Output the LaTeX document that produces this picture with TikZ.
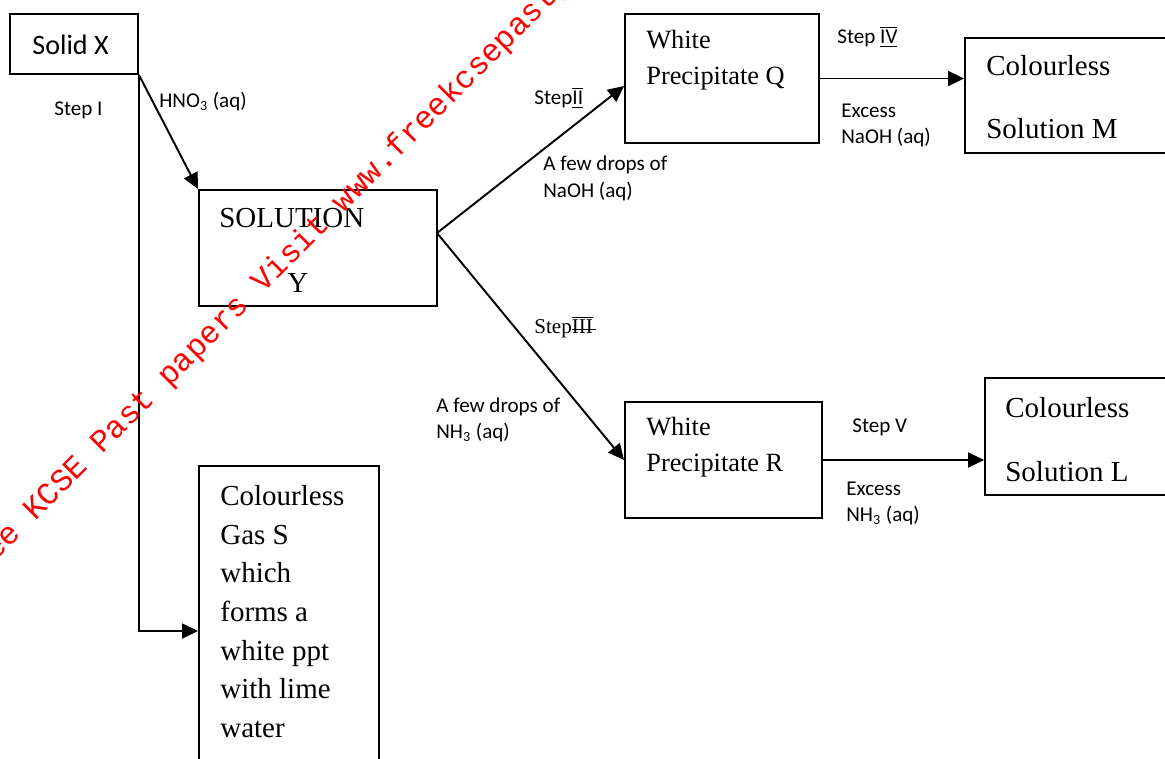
\documentclass[tikz,border=0pt]{standalone}
\usepackage{fontspec}
\setmainfont{Liberation Serif}
\newfontfamily\calfont{Carlito}
\newfontfamily\wmfont{Liberation Mono}
\usetikzlibrary{arrows.meta,positioning}

\newcommand\ovun[1]{$\overline{\underline{\hbox{#1}}}$}
\newcommand\ovst[1]{\setbox0\hbox{#1}\rlap{\rule[0.32ex]{1.15\wd0}{0.5pt}}$\overline{\box0}$}

\tikzset{
  box/.style={draw, line width=1.1pt, inner sep=0pt},
  boxtxt/.style={anchor=west, inner sep=0pt, align=left, font=\fontsize{15}{20.4}\selectfont},
  bigtxt/.style={boxtxt, font=\fontsize{16.5}{36.3}\selectfont},
  lbl/.style={anchor=west, inner sep=0pt, align=left, font=\calfont\fontsize{12}{15}\selectfont},
  flow/.style={line width=1.1pt, -{Triangle[length=0.32cm,width=0.3cm]}}
}

\begin{document}
\begin{tikzpicture}[x=0.02cm, y=-0.02cm]

  \useasboundingbox (0,0) rectangle (1165,758);
  \clip (0,0) rectangle (1165,758);

  % boxes
  \node (X) [box, minimum width=2.56cm, minimum height=1.2cm] at (74,44) {};
  \node (Y) [box, minimum width=4.76cm, minimum height=2.32cm] at (318,248) {};
  \node (S) [box, minimum width=3.6cm, minimum height=6.6cm] at (289,631) {};
  \node (Q) [box, minimum width=3.88cm, minimum height=2.58cm] at (722,78.5) {};
  \node (M) [box, minimum width=4.7cm, minimum height=2.3cm] at (1082.5,95.5) {};
  \node (R) [box, minimum width=3.94cm, minimum height=2.32cm] at (723.5,460) {};
  \node (L) [box, minimum width=4.3cm, minimum height=2.34cm] at (1092.5,436.5) {};

  % box texts
  \node (Xt) [boxtxt, font=\calfont\fontsize{16}{19}\selectfont] at (32,45) {Solid X};
  \node (Yt1) [bigtxt] at (219,218) {SOLUTION};
  \node (Yt2) [bigtxt] at (287,283) {Y};
  \node (St) [boxtxt, font=\fontsize{16.5}{22}\selectfont] at (220,611.5)
    {Colourless\\Gas S\\which\\forms a\\white ppt\\with lime\\water};
  \node (Qt) [boxtxt] at (646,60) {White\\Precipitate Q};
  \node (Mt) [bigtxt] at (986,97) {Colourless\\Solution M};
  \node (Rt) [boxtxt] at (646,447.5) {White\\Precipitate R};
  \node (Lt) [bigtxt] at (1005,439.5) {Colourless\\Solution L};

  % labels
  \node (s1) [lbl] at (54,110) {Step I};
  \node (hno) [lbl] at (159,101) {HNO\textsubscript{3} (aq)};
  \node (s2) [lbl] at (534,98) {Step\ovun{II}};
  \node (naoh1) [lbl] at (543,178.5) {A few drops of\\NaOH (aq)};
  \node (s4) [lbl] at (837,37) {Step \ovun{IV}};
  \node (naoh2) [lbl] at (841,125.5) {Excess\\NaOH (aq)};
  \node (s3) [lbl, font=\fontsize{12}{15}\selectfont] at (534,327) {Step\ovst{III}};
  \node (nh1) [lbl] at (436,420) {A few drops of\\NH\textsubscript{3} (aq)};
  \node (s5) [lbl] at (852,427) {Step V};
  \node (nh2) [lbl] at (846,503.5) {Excess\\NH\textsubscript{3} (aq)};

  % connectors
  \coordinate (B) at (437,233);
  \draw [flow] (X.south east) -- (Y.north west);
  \draw [flow] (X.south east) |- (S.west);
  \draw [flow] (B) -- ([yshift=-0.15cm]Q.west);
  \draw [flow] (B) -- (R.west);
  \draw [flow] (Q.east) -- (Q.east -| M.west);
  \draw [flow] (R.east) -- (R.east -| L.west);

  % watermark
  \node (wm) [anchor=base west, inner sep=0pt, rotate=45, text=red,
    font=\wmfont\fontsize{18}{18}\selectfont] at (-32,589)
    {Free KCSE Past papers Visit www.freekcsepastpapers.com};

\end{tikzpicture}
\end{document}
